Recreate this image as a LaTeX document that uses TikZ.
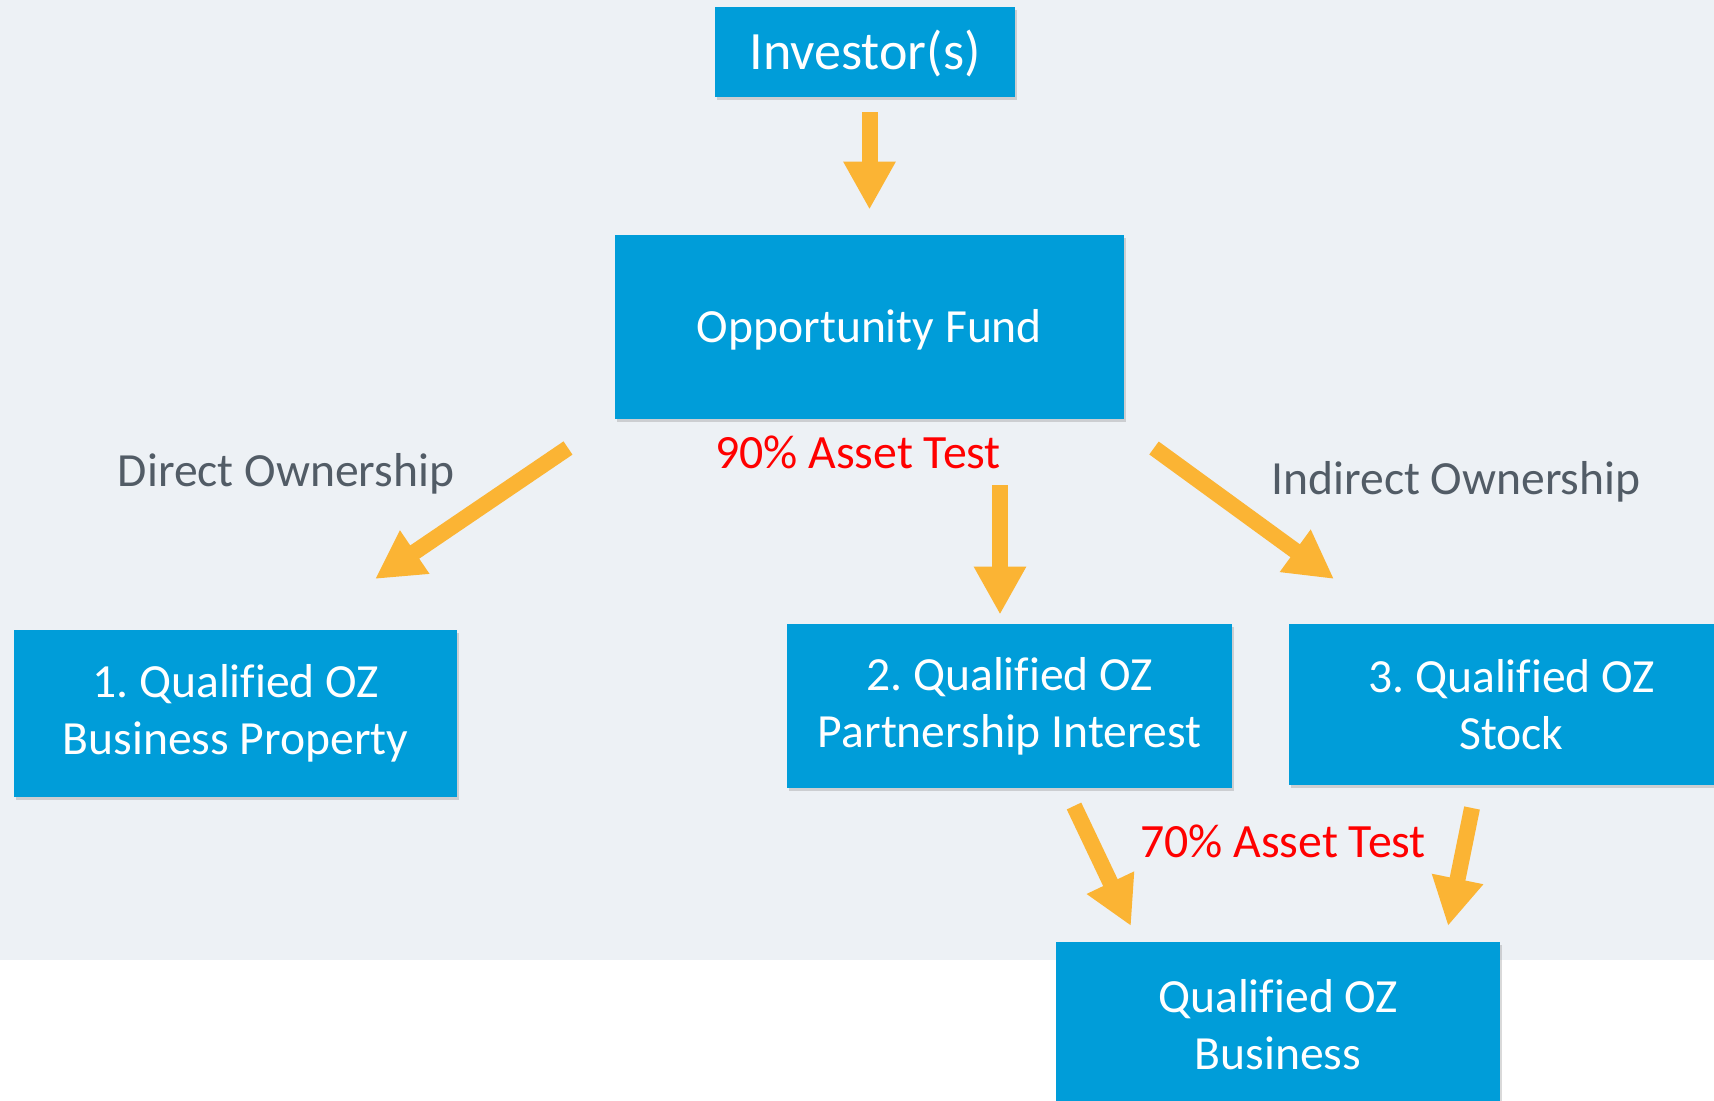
\documentclass[tikz,border=0pt]{standalone}
\usepackage{fontspec}
\setmainfont{Carlito}[Ligatures=NoCommon]
\usetikzlibrary{arrows.meta,shadows}
\definecolor{ozblue}{RGB}{0,157,217}
\definecolor{ozorange}{RGB}{251,180,52}
\definecolor{ozbg}{RGB}{237,241,245}
\definecolor{ozgray}{RGB}{82,92,102}
\frenchspacing
\begin{document}
\begin{tikzpicture}[x=0.5pt, y=-0.5pt,
    box/.style = {shape=rectangle, fill=ozblue, text=white, align=center,
      inner sep=0pt, font=\fontsize{23.8}{28.5}\selectfont,
      drop shadow={shadow xshift=1pt, shadow yshift=-1.5pt, opacity=0.3}},
    flow/.style = {draw=ozorange, line width=8pt,
      -{Triangle[width=24.5pt,length=24pt]}},
    test/.style = {text=red, font=\fontsize{23.9}{26}\selectfont},
    kind/.style = {text=ozgray, font=\fontsize{23.8}{26}\selectfont}]
  \useasboundingbox (0,0) rectangle (1714,1101);
  \clip (0,0) rectangle (1714,1101);
  \fill[ozbg] (0,0) rectangle (1714,960);

  % boxes
  \node[box, minimum width=150pt, minimum height=45pt, text height=20pt, text depth=2.5pt,
    font=\fontsize{27}{32}\selectfont] (inv) at (865,52) {Investor(s)};
  \node[box, minimum width=254.5pt, minimum height=92pt, text height=18pt, text depth=2pt] (fund) at (869.5,327) {Opportunity Fund};
  \node[box, minimum width=221.5pt, minimum height=83.5pt] (qobp) at (235.5,713.5) {1. Qualified OZ\\Business Property};
  \node[box, minimum width=222.5pt, minimum height=82pt] (qopi) at (1009.5,706) {2. Qualified OZ\\Partnership Interest};
  \node[box, minimum width=222.5pt, minimum height=80.5pt] (qos) at (1511.5,704.5) {3. Qualified OZ\\Stock};
  \node[box, minimum width=222pt, minimum height=83.5pt] (qob) at (1278,1025) {Qualified OZ\\Business};

  % labels
  \node[test] (t90) at (858,452) {90\% Asset Test};
  \node[test] (t70) at (1283,841) {70\% Asset Test};
  \node[kind] (direct) at (286,474) {Direct Ownership};
  \node[kind] (indirect) at (1456,482) {Indirect Ownership};

  % arrows
  \coordinate (dirA) at (568,448);
  \coordinate (dirB) at (375,579);
  \coordinate (indA) at (1154,448);
  \coordinate (indB) at (1334,579);
  \coordinate (pA) at (1074,806);
  \coordinate (pB) at (1131,926);
  \coordinate (sA) at (1472,808);
  \coordinate (sB) at (1448,926);
  \draw[flow, shorten <=7.5pt, shorten >=12.5pt] (inv.south -| fund.north) -- (fund.north);
  \draw[flow, shorten <=33pt, shorten >=4.5pt] (fund.south -| 1000,0) -- (qopi.north -| 1000,0);
  \draw[flow] (dirA) -- (dirB);
  \draw[flow] (indA) -- (indB);
  \draw[flow] (pA) -- (pB);
  \draw[flow] (sA) -- (sB);
\end{tikzpicture}
\end{document}
